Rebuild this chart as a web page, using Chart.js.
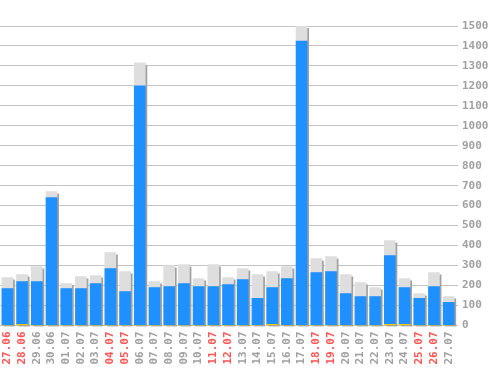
<!DOCTYPE html>
<html>
<head>
<meta charset="utf-8">
<script src="https://cdn.jsdelivr.net/npm/chart.js@4"></script>
<style>
html,body{margin:0;padding:0;background:#fff;}
#wrap{width:498px;height:370px;position:relative;}
</style>
</head>
<body>
<div id="wrap"><canvas id="c" width="498" height="370"></canvas></div>
<script>
const labels = ['27.06','28.06','29.06','30.06','01.07','02.07','03.07','04.07','05.07','06.07','07.07','08.07','09.07','10.07','11.07','12.07','13.07','14.07','15.07','16.07','17.07','18.07','19.07','20.07','21.07','22.07','23.07','24.07','25.07','26.07','27.07'];
const redLabels = ['27.06','28.06','04.07','05.07','11.07','12.07','18.07','19.07','25.07','26.07'];
const yellowValues = [0,5,0,0,0,0,0,0,0,0,0,0,0,0,0,0,0,0,5,0,0,0,0,0,0,0,5,5,0,0,0];
const blueValues = [185,215,220,640,185,185,210,285,170,1200,190,195,210,195,195,205,230,135,185,235,1425,265,270,160,145,145,345,185,135,195,115];
const grayValues = [55,35,75,30,25,60,40,80,100,115,30,105,95,40,110,35,55,120,80,60,75,70,75,95,70,45,75,45,25,70,30];
const yTicks = [0,100,200,300,400,500,600,700,800,900,1000,1100,1200,1300,1400,1500];

Chart.defaults.font.family = '"DejaVu Sans Mono", monospace';
Chart.defaults.font.weight = 'bold';
Chart.defaults.font.size = 11;

const shadowPlugin = {
  id: 'shadow',
  beforeDatasetsDraw(chart) {
    const ctx = chart.ctx;
    const metaTop = chart.getDatasetMeta(2);
    const yScale = chart.scales.y;
    const base = yScale.getPixelForValue(0);
    ctx.save();
    ctx.fillStyle = '#a0a0a0';
    metaTop.data.forEach((bar) => {
      const w = bar.width;
      const left = bar.x - w / 2 + 2;
      const top = bar.y + 2;
      ctx.fillRect(left, top, w, base + 1 - top);
    });
    ctx.restore();
  }
};

new Chart(document.getElementById('c'), {
  type: 'bar',
  data: {
    labels: labels,
    datasets: [
      { data: yellowValues, backgroundColor: '#f5c800', barThickness: 11, stack: 's' },
      { data: blueValues, backgroundColor: '#1e90ff', barThickness: 11, stack: 's' },
      { data: grayValues, backgroundColor: '#dedede', barThickness: 11, stack: 's' }
    ]
  },
  options: {
    responsive: false,
    animation: false,
    events: [],
    layout: { padding: { left: -1.9, right: 0, top: 26, bottom: 0 } },
    plugins: { legend: { display: false }, tooltip: { enabled: false } },
    scales: {
      x: {
        stacked: true,
        grid: { display: false, drawTicks: false },
        border: { display: false },
        afterFit(scale) { scale.height = 44.6; },
        ticks: {
          autoSkip: false,
          maxRotation: 90,
          minRotation: 90,
          padding: 6,
          color: (c) => redLabels.includes(labels[c.index]) ? '#ff5555' : '#a0a0a0'
        }
      },
      y: {
        stacked: true,
        position: 'right',
        min: 0,
        max: 1500,
        afterFit(scale) { scale.width = 42; },
        afterBuildTicks(scale) { scale.ticks = yTicks.map(v => ({ value: v })); },
        grid: { color: '#c4c4c4', drawTicks: true, tickLength: 2 },
        border: { display: false },
        ticks: { padding: 4, color: '#a0a0a0', crossAlign: 'near', callback: (v) => String(v) }
      }
    }
  },
  plugins: [shadowPlugin]
});
</script>
</body>
</html>
